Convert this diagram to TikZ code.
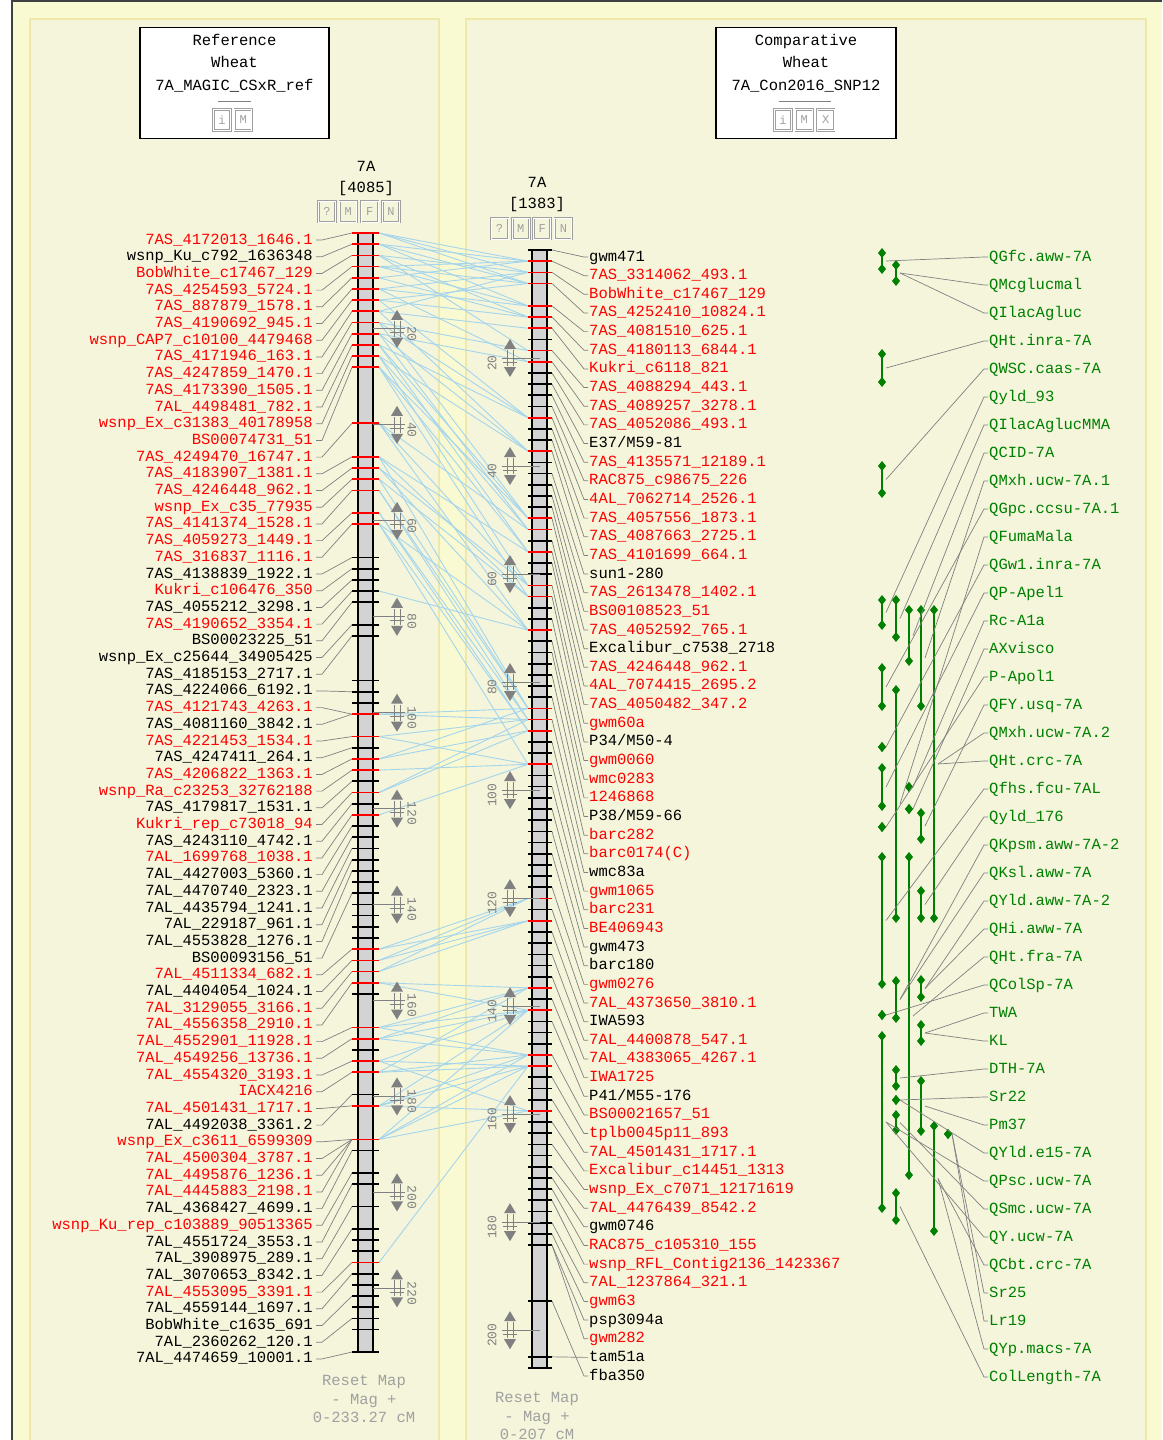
\documentclass[tikz,border=0pt]{standalone}
\usepackage{fontspec}
\setmonofont{Liberation Mono}
\usetikzlibrary{positioning}
\definecolor{PageYellow}{HTML}{FAFAD2}
\definecolor{PanelBeige}{HTML}{F5F5DC}
\definecolor{PanelEdge}{HTML}{EEE8AA}
\definecolor{LinkBlue}{HTML}{A3D5EC}
\definecolor{StubGray}{HTML}{808080}
\definecolor{BarGray}{HTML}{D3D3D3}
\definecolor{QtlGreen}{HTML}{008000}
\definecolor{BtnGray}{HTML}{A0A0A0}
\tikzset{
  mono/.style={font=\ttfamily\fontsize{15.5}{17}\selectfont, inner sep=0pt, text height=9pt, text depth=1pt},
  leftlab/.style={mono, anchor=east},
  midlab/.style={mono, anchor=west},
  qtllab/.style={mono, anchor=west, text=QtlGreen},
  footer/.style={mono, text=BtnGray},
  stub/.style={draw=StubGray, line width=0.7pt},
  link/.style={draw=LinkBlue, line width=0.9pt},
  cmtick/.style={line width=1.7pt},
  chrbar/.style={fill=BarGray, draw=black, line width=1.6pt},
  glyph/.style={draw=StubGray, line width=1pt},
  sclnum/.style={text=StubGray, font=\ttfamily\fontsize{13}{13}\selectfont, inner sep=0pt},
  btn/.style={draw=BtnGray, double=white, double distance=0.9pt, line width=0.8pt, text=BtnGray,
    font=\ttfamily\fontsize{12}{12}\selectfont, minimum width=17pt, minimum height=21pt, inner sep=0pt},
  titlebox/.style={draw=black, fill=white, line width=1.5pt, minimum height=111pt},
  qtlbar/.style={draw=QtlGreen, line width=1.8pt},
}

\begin{document}
\begin{tikzpicture}[x=1pt, y=-1pt]
  \useasboundingbox (0,0) rectangle (1162,1440);
  \clip (0,0) rectangle (1162,1440);
  % page and the two panels
  \fill[white] (0,0) rectangle (1162,1440);
  \fill[PageYellow] (12,1) rectangle (1162,1440);
  \draw[black!75, line width=2pt] (12,1440) -- (12,1) -- (1162,1);
  \draw[fill=PanelBeige, draw=PanelEdge, line width=1.5pt] (30,19) rectangle (439,1460);
  \draw[fill=PanelBeige, draw=PanelEdge, line width=1.5pt] (466,19) rectangle (1146,1460);

  % tick positions on both maps
  \foreach \k in {0,...,100} {
    \coordinate (ltw\k) at (352,{233+11.19*\k});
    \coordinate (lte\k) at (379,{233+11.19*\k});
    \coordinate (mtw\k) at (528,{250+11.18*\k});
    \coordinate (mte\k) at (552,{250+11.18*\k});
  }

  % shared markers
  \foreach \a/\b in {0/1,0/2,0/3,1/1,1/3,1/5,2/2,2/6,2/9,3/3,3/5,3/1,4/1,4/6,5/5,5/10,5/2,6/6,6/15,6/3,
      7/7,7/18,7/2,8/9,8/15,8/24,9/10,9/18,9/25,10/15,10/24,10/27,11/18,11/25,11/30,12/24,12/27,12/31,
      17/25,17/30,17/34,20/27,20/31,20/41,21/30,21/34,22/31,22/41,23/41,23/42,25/42,25/43,26/34,26/43,
      26/46,32/34,43/41,43/42,45/42,45/46,47/41,47/43,48/46,50/42,50/43,52/46,64/58,64/60,65/60,65/58,
      66/58,66/60,67/66,67/68,71/66,71/68,71/72,72/68,72/72,72/66,74/73,74/77,74/68,75/72,75/66,75/73,
      78/73,78/68,78/77,78/72,81/72,81/77,81/68,81/73,92/73}
    \draw[link] (lte\a) -- (mtw\b);

  % reference map
  \draw[chrbar] (358,233) rectangle (373,1352);
  \foreach \k in {0,1,2,3,4,5,6,7,8,9,10,11,12,17,20,21,22,23,25,26,43,45,47,48,50,52,64,65,66,67,71,72,74,75,78,81,92}
    \draw[cmtick, red] (ltw\k) -- (lte\k);
  \foreach \k in {29,30,31,32,33,35,36,40,41,42,46,49,51,53,54,55,56,57,58,59,60,61,62,63,68,73,77,82,84,85,87,89,90,91,93,94,95,96,97,98,100}
    \draw[cmtick] (ltw\k) -- (lte\k);
  \foreach \c in {20,40,...,220} {
    \coordinate (lsc\c) at (397,{233+4.797*\c});
    \draw[glyph] (373,{233+4.797*\c}) -- ([xshift=8pt]lsc\c);
    \draw[glyph] ([shift={(-7,4)}]lsc\c) -- ([shift={(7,4)}]lsc\c);
    \draw[glyph] ([shift={(-3,-8)}]lsc\c) -- ([shift={(-3,8)}]lsc\c) ([shift={(3,-8)}]lsc\c) -- ([shift={(3,8)}]lsc\c);
    \fill[StubGray] ([shift={(-6,-9)}]lsc\c) -- ([shift={(6,-9)}]lsc\c) -- ([shift={(0,-19)}]lsc\c) -- cycle;
    \fill[StubGray] ([shift={(-6,9)}]lsc\c) -- ([shift={(6,9)}]lsc\c) -- ([shift={(0,19)}]lsc\c) -- cycle;
    \node[sclnum, rotate=-90] (lscn\c) at ([shift={(15,5)}]lsc\c) {\c};
  }
  \foreach \i/\col/\k/\txt in {
      1/red/0/7AS\_4172013\_1646.1, 2/black/1/wsnp\_Ku\_c792\_1636348, 3/red/2/BobWhite\_c17467\_129,
      4/red/3/7AS\_4254593\_5724.1, 5/red/4/7AS\_887879\_1578.1, 6/red/5/7AS\_4190692\_945.1,
      7/red/6/wsnp\_CAP7\_c10100\_4479468, 8/red/7/7AS\_4171946\_163.1, 9/red/8/7AS\_4247859\_1470.1,
      10/red/9/7AS\_4173390\_1505.1, 11/red/10/7AL\_4498481\_782.1, 12/red/11/wsnp\_Ex\_c31383\_40178958,
      13/red/12/BS00074731\_51, 14/red/17/7AS\_4249470\_16747.1, 15/red/20/7AS\_4183907\_1381.1,
      16/red/21/7AS\_4246448\_962.1, 17/red/22/wsnp\_Ex\_c35\_77935, 18/red/23/7AS\_4141374\_1528.1,
      19/red/25/7AS\_4059273\_1449.1, 20/red/26/7AS\_316837\_1116.1, 21/black/29/7AS\_4138839\_1922.1,
      22/red/30/Kukri\_c106476\_350, 23/black/31/7AS\_4055212\_3298.1, 24/red/32/7AS\_4190652\_3354.1,
      25/black/33/BS00023225\_51, 26/black/35/wsnp\_Ex\_c25644\_34905425, 27/black/36/7AS\_4185153\_2717.1,
      28/black/41/7AS\_4224066\_6192.1, 29/red/43/7AS\_4121743\_4263.1, 30/black/43/7AS\_4081160\_3842.1,
      31/red/45/7AS\_4221453\_1534.1, 32/black/46/7AS\_4247411\_264.1, 33/red/47/7AS\_4206822\_1363.1,
      34/red/48/wsnp\_Ra\_c23253\_32762188, 35/black/49/7AS\_4179817\_1531.1, 36/red/50/Kukri\_rep\_c73018\_94,
      37/black/51/7AS\_4243110\_4742.1, 38/red/52/7AL\_1699768\_1038.1, 39/black/53/7AL\_4427003\_5360.1,
      40/black/54/7AL\_4470740\_2323.1, 41/black/55/7AL\_4435794\_1241.1, 42/black/56/7AL\_229187\_961.1,
      43/black/57/7AL\_4553828\_1276.1, 44/black/59/BS00093156\_51, 45/red/64/7AL\_4511334\_682.1,
      46/black/65/7AL\_4404054\_1024.1, 47/red/66/7AL\_3129055\_3166.1, 48/red/67/7AL\_4556358\_2910.1,
      49/red/71/7AL\_4552901\_11928.1, 50/red/72/7AL\_4549256\_13736.1, 51/red/74/7AL\_4554320\_3193.1,
      52/red/75/IACX4216, 53/red/78/7AL\_4501431\_1717.1, 54/black/77/7AL\_4492038\_3361.2,
      55/red/81/wsnp\_Ex\_c3611\_6599309, 56/red/81/7AL\_4500304\_3787.1, 57/red/81/7AL\_4495876\_1236.1,
      58/red/81/7AL\_4445883\_2198.1, 59/black/82/7AL\_4368427\_4699.1, 60/red/84/wsnp\_Ku\_rep\_c103889\_90513365,
      61/black/85/7AL\_4551724\_3553.1, 62/black/87/7AL\_3908975\_289.1, 63/black/89/7AL\_3070653\_8342.1,
      64/red/92/7AL\_4553095\_3391.1, 65/black/93/7AL\_4559144\_1697.1, 66/black/95/BobWhite\_c1635\_691,
      67/black/97/7AL\_2360262\_120.1, 68/black/100/7AL\_4474659\_10001.1} {
    \node[leftlab, text=\col] (L\i) at (313,{240+(\i-1)*16.7}) {\txt};
    \draw[stub] (L\i.east) ++(3,0) -- ++(6,0) -- (ltw\k);
  }
  \node[mono] (lname) at (366,167) {7A};
  \node[mono] (lcount) at (366,188) {[4085]};
  \node[btn] (lq) at (327,211.5) {?};
  \node[btn, right=3.5pt of lq] (lm) {M};
  \node[btn, right=3.5pt of lm] (lf) {F};
  \node[btn, right=3.5pt of lf] (ln) {N};
  \node[footer] (lreset) at (364,1381) {Reset Map};
  \node[footer] (lmag) at (364,1400) {- Mag +};
  \node[footer] (lrange) at (364,1418) {0-233.27 cM};

  % comparative map
  \draw[chrbar] (532,250) rectangle (547,1368);
  \foreach \k in {1,2,3,5,6,7,9,10,15,18,24,25,27,30,31,34,41,42,43,46,58,60,66,68,72,73,77}
    \draw[cmtick, red] (mtw\k) -- (mte\k);
  \foreach \k in {0,8,11,12,13,14,16,17,19,20,21,22,23,26,28,29,32,33,35,36,37,38,39,40,44,45,47,48,49,50,
      51,52,53,54,55,56,57,59,61,62,63,64,65,67,69,70,71,74,75,76,78,79,80,81,82,83,84,85,86,87,88,89,94,99,100}
    \draw[cmtick] (mtw\k) -- (mte\k);
  \foreach \c in {20,40,...,200} {
    \coordinate (msc\c) at (510,{250+5.401*\c});
    \draw[glyph] ([xshift=-8pt]msc\c) -- (540,{250+5.401*\c});
    \draw[glyph] ([shift={(-7,4)}]msc\c) -- ([shift={(7,4)}]msc\c);
    \draw[glyph] ([shift={(-3,-8)}]msc\c) -- ([shift={(-3,8)}]msc\c) ([shift={(3,-8)}]msc\c) -- ([shift={(3,8)}]msc\c);
    \fill[StubGray] ([shift={(-6,-9)}]msc\c) -- ([shift={(6,-9)}]msc\c) -- ([shift={(0,-19)}]msc\c) -- cycle;
    \fill[StubGray] ([shift={(-6,9)}]msc\c) -- ([shift={(6,9)}]msc\c) -- ([shift={(0,19)}]msc\c) -- cycle;
    \node[sclnum, rotate=90] (mscn\c) at ([shift={(-18,5)}]msc\c) {\c};
  }
  \foreach \n/\col/\k/\txt in {
      1/black/0/gwm471, 2/red/1/7AS\_3314062\_493.1, 3/red/2/BobWhite\_c17467\_129,
      4/red/3/7AS\_4252410\_10824.1, 5/red/5/7AS\_4081510\_625.1, 6/red/6/7AS\_4180113\_6844.1,
      7/red/7/Kukri\_c6118\_821, 8/red/9/7AS\_4088294\_443.1, 9/red/10/7AS\_4089257\_3278.1,
      10/red/11/7AS\_4052086\_493.1, 11/black/12/{E37/M59-81}, 12/red/13/7AS\_4135571\_12189.1,
      13/red/14/RAC875\_c98675\_226, 14/red/15/4AL\_7062714\_2526.1, 15/red/16/7AS\_4057556\_1873.1,
      16/red/17/7AS\_4087663\_2725.1, 17/red/18/7AS\_4101699\_664.1, 18/black/20/sun1-280,
      19/red/21/7AS\_2613478\_1402.1, 20/red/22/BS00108523\_51, 21/red/23/7AS\_4052592\_765.1,
      22/black/24/Excalibur\_c7538\_2718, 23/red/26/7AS\_4246448\_962.1, 24/red/27/4AL\_7074415\_2695.2,
      25/red/28/7AS\_4050482\_347.2, 26/red/30/gwm60a, 27/black/31/{P34/M50-4},
      28/red/33/gwm0060, 29/red/35/wmc0283, 30/red/36/1246868,
      31/black/38/{P38/M59-66}, 32/red/40/barc282, 33/red/42/barc0174(C),
      34/black/44/wmc83a, 35/red/46/gwm1065, 36/red/48/barc231,
      37/red/50/BE406943, 38/black/52/gwm473, 39/black/54/barc180,
      40/red/57/gwm0276, 41/red/59/7AL\_4373650\_3810.1, 42/black/61/IWA593,
      43/red/63/7AL\_4400878\_547.1, 44/red/65/7AL\_4383065\_4267.1, 45/red/67/IWA1725,
      46/black/69/{P41/M55-176}, 47/red/72/BS00021657\_51, 48/red/74/tplb0045p11\_893,
      49/red/76/7AL\_4501431\_1717.1, 50/red/78/Excalibur\_c14451\_1313, 51/red/80/wsnp\_Ex\_c7071\_12171619,
      52/red/82/7AL\_4476439\_8542.2, 53/black/83/gwm0746, 54/red/84/RAC875\_c105310\_155,
      55/red/85/wsnp\_RFL\_Contig2136\_1423367, 56/red/87/7AL\_1237864\_321.1, 57/red/88/gwm63,
      58/black/89/psp3094a, 59/red/89/gwm282, 60/black/99/tam51a, 61/black/94/fba350} {
    \node[midlab, text=\col] (M\n) at (589,{257+(\n-1)*18.65}) {\txt};
    \draw[stub] (mte\k) -- ([xshift=-5pt]M\n.west) -- ([xshift=-1pt]M\n.west);
  }
  \node[mono] (mname) at (537,183) {7A};
  \node[mono] (mcount) at (537,204) {[1383]};
  \node[btn] (mq) at (499.5,228.5) {?};
  \node[btn, right=3.5pt of mq] (mm) {M};
  \node[btn, right=3.5pt of mm] (mf) {F};
  \node[btn, right=3.5pt of mf] (mn) {N};
  \node[footer] (mreset) at (537,1398) {Reset Map};
  \node[footer] (mmag) at (537,1417) {- Mag +};
  \node[footer] (mrange) at (537,1435) {0-207 cM};

  % title boxes
  \node[titlebox, minimum width=189pt] (refbox) at (234.5,83) {};
  \node[mono] (refl1) at (234.5,41) {Reference};
  \node[mono] (refl2) at (234.5,63) {Wheat};
  \node[mono] (refl3) at (234.5,86) {7A\_MAGIC\_CSxR\_ref};
  \draw[StubGray] (218,101) -- (251,101);
  \node[btn] (refi) at (222,120) {i};
  \node[btn, right=3.5pt of refi] (refm) {M};
  \node[titlebox, minimum width=180pt] (cmpbox) at (806,83) {};
  \node[mono] (cmpl1) at (806,41) {Comparative};
  \node[mono] (cmpl2) at (806,63) {Wheat};
  \node[mono] (cmpl3) at (806,86) {7A\_Con2016\_SNP12};
  \draw[StubGray] (779,101) -- (831,101);
  \node[btn] (cmpi) at (783,120) {i};
  \node[btn, right=3.5pt of cmpi] (cmpm) {M};
  \node[btn, right=3.5pt of cmpm] (cmpx) {X};

  % QTL intervals
  \foreach \j/\x/\ya/\yb in {1/882/253/269, 2/896/265/281, 3/882/354/382, 4/882/466/493, 5/882/600/625,
      6/896/600/637, 7/909/610/661, 8/921/610/706, 9/934/610/918, 10/882/668/706, 11/896/690/918,
      12/882/747/747, 13/882/768/806, 14/909/787/787, 15/909/809/809, 16/882/827/827, 17/921/813/839,
      18/882/857/984, 19/909/857/1175, 20/921/891/918, 21/896/981/1018, 22/921/980/997, 23/882/1015/1015,
      24/921/1025/1041, 25/882/1036/1208, 26/896/1070/1086, 27/921/1081/1131, 28/896/1100/1100,
      29/896/1115/1130, 30/934/1126/1231, 31/948/1134/1134, 32/896/1193/1220} {
    \draw[qtlbar] (\x,\ya) -- (\x,\yb);
    \fill[QtlGreen] (\x,{\ya-5}) -- ({\x+4},\ya) -- (\x,{\ya+5}) -- ({\x-4},\ya) -- cycle;
    \fill[QtlGreen] (\x,{\yb-5}) -- ({\x+4},\yb) -- (\x,{\yb+5}) -- ({\x-4},\yb) -- cycle;
    \coordinate (qs\j) at ({\x+4},{(\ya+\yb)/2});
  }
  \foreach \n/\j/\txt in {1/1/QGfc.aww-7A, 2/2/QMcglucmal, 3/2/QIlacAgluc, 4/3/QHt.inra-7A,
      5/4/QWSC.caas-7A, 6/5/Qyld\_93, 7/6/QIlacAglucMMA, 8/7/QCID-7A, 9/8/QMxh.ucw-7A.1,
      10/10/QGpc.ccsu-7A.1, 11/11/QFumaMala, 12/12/QGw1.inra-7A, 13/13/QP-Apel1, 14/14/Rc-A1a,
      15/15/AXvisco, 16/16/P-Apol1, 17/17/QFY.usq-7A, 18/9/QMxh.ucw-7A.2, 19/9/QHt.crc-7A,
      20/18/Qfhs.fcu-7AL, 21/20/Qyld\_176, 22/21/QKpsm.aww-7A-2, 23/21/QKsl.aww-7A,
      24/22/QYld.aww-7A-2, 25/22/QHi.aww-7A, 26/19/QHt.fra-7A, 27/23/QColSp-7A, 28/24/TWA,
      29/24/KL, 30/26/DTH-7A, 31/28/Sr22, 32/27/Pm37, 33/28/QYld.e15-7A, 34/25/QPsc.ucw-7A,
      35/29/QSmc.ucw-7A, 36/25/QY.ucw-7A, 37/30/QCbt.crc-7A, 38/31/Sr25, 39/31/Lr19,
      40/30/QYp.macs-7A, 41/32/ColLength-7A} {
    \node[qtllab] (Q\n) at (989,{257+(\n-1)*28}) {\txt};
    \draw[stub] (qs\j) -- ([xshift=-5pt]Q\n.west) -- ([xshift=-1pt]Q\n.west);
  }
\end{tikzpicture}
\end{document}
